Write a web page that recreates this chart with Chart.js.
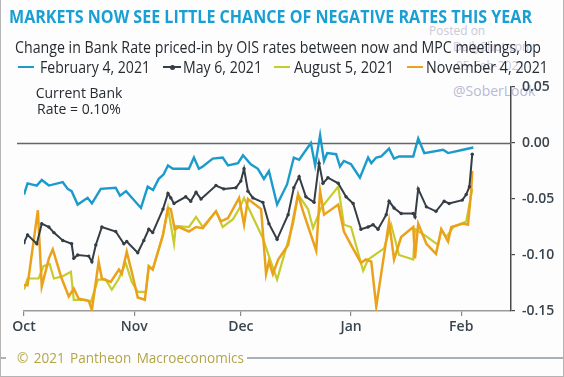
<!DOCTYPE html>
<html>
<head>
<meta charset="utf-8">
<script src="https://cdn.jsdelivr.net/npm/chart.js@4.4.1/dist/chart.umd.min.js"></script>
<style>
  html, body { margin: 0; padding: 0; background: #fff; }
  #wrap { position: relative; width: 564px; height: 377px; overflow: hidden; background: #fdfdfe;
          font-family: 'Open Sans', sans-serif; box-sizing: border-box;
          border-left: 1px solid #b4b4b4; border-right: 1px solid #b4b4b4; border-bottom: 1px solid #b4b4b4; }
  #chart { position: absolute; left: 0; top: 0; }
  .txt { position: absolute; white-space: nowrap; transform-origin: 0 50%; }
  #title { left: 8px; top: 5px; font-size: 18px; line-height: 22px; font-weight: 700; color: #1a9fd2; }
  #subtitle { left: 14px; top: 37px; font-size: 15.5px; line-height: 20px; color: #262b30; }
  .leg { position: absolute; top: 57px; height: 20px; line-height: 20px; font-size: 15.5px; color: #262b30; white-space: nowrap; }
  .leg i { position: absolute; top: 9px; height: 2px; }
  .leg b { position: absolute; top: 7.5px; width: 5px; height: 5px; border-radius: 50%; background: #353d45; }
  .leg span { position: absolute; top: 0; transform-origin: 0 50%; }
  .note { position: absolute; width: 120px; left: 18px; text-align: center; font-size: 14px; line-height: 16px; color: #262b30; }
  .wm { position: absolute; color: #c9c9da; font-size: 12px; white-space: nowrap; }
  #footline1 { position: absolute; left: 0; top: 357px; width: 5px; height: 2px; background: #aab2b7; }
  #footline2 { position: absolute; left: 246px; top: 357px; width: 320px; height: 2px; background: #aab2b7; }
  #foot { left: 16px; top: 349px; font-size: 14px; line-height: 18px; color: #b3a547; word-spacing: 2px; }
</style>
</head>
<body>
<div id="wrap">
  <div class="wm" style="left:428px;top:22px;">Posted on</div>
  <div class="wm" style="left:452px;top:38px;">DailyShot.com</div>
  <div class="wm" style="left:455px;top:57px;">05-Feb-2021</div>
  <div class="wm" style="left:452px;top:81px;font-size:14px;color:#b9b9d2;">@SoberLook</div>
  <canvas id="chart" width="564" height="377"></canvas>
  <div id="title" class="txt">MARKETS NOW SEE LITTLE CHANCE OF NEGATIVE RATES THIS YEAR</div>
  <div id="subtitle" class="txt">Change in Bank Rate priced-in by OIS rates between now and MPC meetings, bp</div>
  <div id="legend"></div>
  <div class="note" style="top:85px;">Current Bank</div>
  <div class="note" style="top:101px;">Rate = 0.10%</div>
  <div id="footline1"></div>
  <div id="footline2"></div>
  <div id="foot" class="txt">© 2021 Pantheon Macroeconomics</div>
</div>
<script>
'use strict';
const $ = id => document.getElementById(id);

// x = days since 1 Oct 2020
const xTicks = [0, 31, 61, 92, 123];
const xTickLabels = ['Oct', 'Nov', 'Dec', 'Jan', 'Feb'];
const yTicks = [0.05, 0.00, -0.05, -0.10, -0.15];

const seriesNames = ['February 4, 2021', 'May 6, 2021', 'August 5, 2021', 'November 4, 2021'];

const febDays = [0,1,3.6,5,7,10.9,12.3,13.4,15.1,17.9,19.1,21.6,25.8,27,28.7,30.1,32.9,34.8,36.3,37.9,39.3,40.5,41.9,46.4,47.8,49.2,50.3,53.1,55.9,57.4,60.2,61.6,63.8,65.8,67.5,68.9,71.2,74,75.9,77.4,80.7,81.9,83.3,84.4,85.3,87.8,88.9,90,92,94.5,96.8,97.7,99.1,100.5,102.7,104.1,105.5,109.5,110.9,112.6,117.9,119.3,123.5,126.4];
const febVals = [-0.046,-0.036,-0.038,-0.033,-0.038,-0.035,-0.041,-0.043,-0.055,-0.049,-0.054,-0.041,-0.040,-0.047,-0.043,-0.048,-0.058,-0.039,-0.042,-0.032,-0.028,-0.020,-0.023,-0.023,-0.013,-0.023,-0.021,-0.014,-0.013,-0.020,-0.018,-0.011,-0.019,-0.023,-0.032,-0.025,-0.055,-0.037,-0.013,-0.015,0.000,-0.020,0.007,-0.016,-0.009,-0.010,-0.021,-0.016,-0.019,-0.031,-0.013,-0.018,-0.013,-0.012,-0.005,-0.014,-0.012,-0.012,0.004,-0.009,-0.006,-0.009,-0.006,-0.004];

const mayDays = [0,1,3.6,5,7,8.4,10.9,13.4,14,15.1,18.2,19.1,20.2,21.9,25.8,28.1,28.9,32,33.7,35.1,36.2,39.1,40.5,41.3,42.2,45.5,46.9,48.4,49.8,54,56.2,59.6,61,61.9,63,64.4,67.2,68.9,71.2,74.3,75.9,77.4,79.3,81.6,83,84.1,85.5,88.4,90.6,92.6,94.8,96.8,98.2,99.6,101.9,102.7,104.1,106.1,109.5,110,110.9,113.2,115.9,118.2,119.6,123.3,124.4,125.3,126.1];
const mayVals = [-0.089,-0.082,-0.090,-0.072,-0.075,-0.080,-0.087,-0.090,-0.103,-0.100,-0.101,-0.106,-0.091,-0.075,-0.079,-0.090,-0.088,-0.098,-0.087,-0.077,-0.080,-0.059,-0.045,-0.049,-0.054,-0.048,-0.052,-0.044,-0.050,-0.038,-0.041,-0.040,-0.034,-0.023,-0.043,-0.049,-0.053,-0.072,-0.086,-0.064,-0.040,-0.030,-0.048,-0.053,-0.018,-0.036,-0.031,-0.036,-0.048,-0.054,-0.077,-0.075,-0.073,-0.077,-0.064,-0.052,-0.058,-0.063,-0.063,-0.066,-0.041,-0.057,-0.061,-0.052,-0.054,-0.051,-0.046,-0.039,-0.010];

const augDays = [0,1,4.1,5.5,7.2,8.4,10.9,13.2,14,17.4,18.8,20.8,23,24.7,26.7,28.6,30.3,32,34.3,35.1,36.2,39.1,40.5,42.2,42.7,46.4,48.4,50.3,54,55.9,58.8,60.5,61.9,63,67.2,68.9,71.2,75.7,77.1,79.9,81.3,83.6,88.4,90,92,95.4,96.8,99.1,101.3,103.3,105.5,109.5,110,112.6,116.5,117.4,118.8,120.8,124.4,126.1];
const augVals = [-0.131,-0.121,-0.121,-0.110,-0.108,-0.121,-0.119,-0.115,-0.140,-0.140,-0.142,-0.122,-0.122,-0.131,-0.121,-0.107,-0.124,-0.133,-0.133,-0.110,-0.113,-0.082,-0.058,-0.090,-0.074,-0.075,-0.066,-0.075,-0.061,-0.075,-0.068,-0.059,-0.049,-0.057,-0.085,-0.101,-0.122,-0.072,-0.046,-0.059,-0.076,-0.058,-0.039,-0.073,-0.075,-0.114,-0.104,-0.099,-0.094,-0.073,-0.100,-0.104,-0.077,-0.082,-0.091,-0.077,-0.084,-0.075,-0.070,-0.041];

const novDays = [0,1,3.9,5,7,8.1,10.6,12.6,14,15.4,18.2,19.1,21,21.9,24.4,26.7,27.5,28.9,30.3,32,34,35.1,36.2,39.1,40.5,41.3,42.4,43.6,46.4,48.4,50.3,54,55.4,57.4,60.5,61.9,63,66.7,68.1,68.9,70,71.5,74.3,77.1,78.5,82.2,83.3,84.4,88.4,90,92,94.8,96.2,97.7,99.1,102.7,104.1,106.1,109.5,110,110.9,113.2,115.9,117.4,119.3,120.2,123.5,124.9,125.8,126.1];
const novVals = [-0.127,-0.127,-0.060,-0.128,-0.103,-0.095,-0.121,-0.137,-0.130,-0.139,-0.141,-0.149,-0.106,-0.121,-0.124,-0.113,-0.117,-0.097,-0.115,-0.138,-0.140,-0.110,-0.113,-0.082,-0.058,-0.059,-0.077,-0.075,-0.079,-0.075,-0.076,-0.061,-0.070,-0.067,-0.049,-0.073,-0.050,-0.059,-0.117,-0.106,-0.117,-0.104,-0.091,-0.046,-0.061,-0.096,-0.043,-0.064,-0.055,-0.079,-0.091,-0.107,-0.104,-0.106,-0.146,-0.070,-0.104,-0.084,-0.075,-0.103,-0.072,-0.090,-0.099,-0.077,-0.088,-0.075,-0.072,-0.073,-0.043,-0.025];

const colors = ['#1b9bcb', '#353d45', '#c6cc2c', '#eba21b'];

const pts = (xs, ys) => xs.map((x, i) => ({ x, y: ys[i] }));

const zeroLine = {
  id: 'zeroLine',
  beforeDatasetsDraw(chart) {
    const { ctx, chartArea, scales: { y } } = chart;
    const py = Math.round(y.getPixelForValue(0)) + 0.5;
    ctx.save();
    ctx.strokeStyle = '#666';
    ctx.lineWidth = 1.4;
    ctx.beginPath();
    ctx.moveTo(chartArea.left - 7, py);
    ctx.lineTo(chartArea.right, py);
    ctx.stroke();
    ctx.restore();
  }
};

new Chart($('chart'), {
  type: 'line',
  data: {
    datasets: [
      { label: seriesNames[0], data: pts(febDays, febVals), borderColor: colors[0], borderWidth: 2.4, pointRadius: 0, order: 0 },
      { label: seriesNames[1], data: pts(mayDays, mayVals), borderColor: colors[1], borderWidth: 2, pointRadius: 1.7,
        pointBackgroundColor: colors[1], pointBorderWidth: 0, order: 1 },
      { label: seriesNames[2], data: pts(augDays, augVals), borderColor: colors[2], borderWidth: 2.2, pointRadius: 0, order: 3 },
      { label: seriesNames[3], data: pts(novDays, novVals), borderColor: colors[3], borderWidth: 2.5, pointRadius: 0, order: 2 }
    ]
  },
  options: {
    responsive: false,
    animation: false,
    devicePixelRatio: 1,
    layout: { padding: { left: 23, top: 87, right: 0, bottom: 0 } },
    plugins: { legend: { display: false }, tooltip: { enabled: false } },
    elements: { line: { tension: 0 } },
    scales: {
      x: {
        type: 'linear', min: 0, max: 137,
        afterFit: s => { s.height = 66; },
        afterBuildTicks: s => { s.ticks = xTicks.map(v => ({ value: v })); },
        ticks: {
          autoSkip: false, maxRotation: 0, padding: 3,
          color: '#3a454e', font: { family: 'Open Sans', size: 14, weight: '600' },
          callback: v => xTickLabels[xTicks.indexOf(v)]
        },
        grid: { drawOnChartArea: false, drawTicks: true, tickLength: 5, color: '#8a8a8a', lineWidth: 1.2 },
        border: { display: true, color: '#9a9a9a', width: 1.5 }
      },
      y: {
        position: 'right', min: -0.15, max: 0.05,
        afterFit: s => { s.width = 54; },
        afterBuildTicks: s => { s.ticks = yTicks.map(v => ({ value: v })); },
        ticks: {
          padding: 7, crossAlign: 'near',
          color: '#3a454e', font: { family: 'Open Sans', size: 14, weight: '600' },
          callback: v => (Math.round(v * 100) / 100).toFixed(2)
        },
        grid: { drawOnChartArea: false, drawTicks: true, tickLength: 4, color: '#4a4a4a', lineWidth: 1.2 },
        border: { display: true, color: '#4a4a4a', width: 1.5 }
      }
    }
  },
  plugins: [zeroLine]
});

// legend built from the series names / colours
const legX = [17, 162, 273, 406];
const legTextX = [39, 182, 293, 425];
const legTextW = [110, 79, 100, 122];
$('legend').innerHTML = seriesNames.map((n, i) => `
  <div class="leg" style="left:${legX[i]}px;">
    <i style="left:0;width:${i === 1 ? 18 : 16}px;background:${colors[i]}"></i>
    ${i === 1 ? '<b style="left:6.5px"></b>' : ''}
    <span style="left:${legTextX[i] - legX[i]}px" data-w="${legTextW[i]}">${n}</span>
  </div>`).join('');

function fit(el, w) {
  const r = w / el.getBoundingClientRect().width;
  el.style.transform = `scaleX(${r})`;
}
fit($('title'), 523);
fit($('subtitle'), 526);
fit($('foot'), 227);
document.querySelectorAll('.leg span').forEach(s => fit(s, +s.dataset.w));
</script>
</body>
</html>
